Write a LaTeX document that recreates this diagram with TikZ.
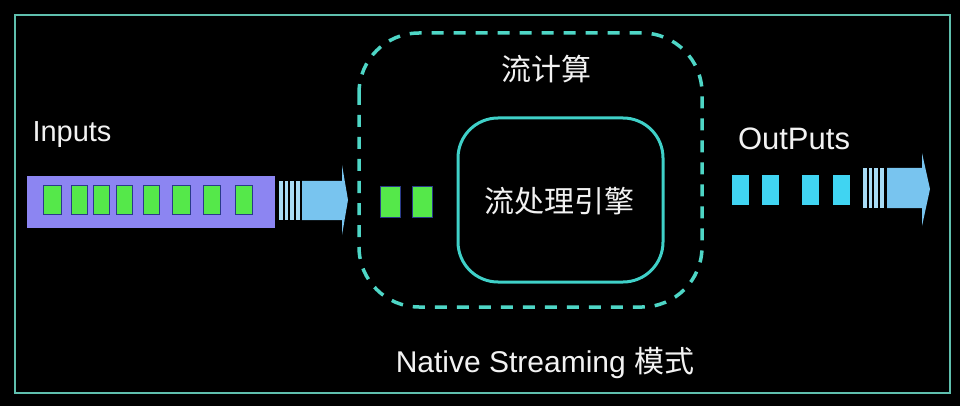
\documentclass[tikz,border=0pt]{standalone}
\usepackage{fontspec}
\setmainfont{Liberation Sans}
\newfontfamily\cjk{Noto Sans CJK SC}
\definecolor{framec}{HTML}{5FBFAE}
\definecolor{dashc}{HTML}{4ED6C6}
\definecolor{innerc}{HTML}{3FD0C8}
\definecolor{purplec}{HTML}{8C85F2}
\definecolor{greenc}{HTML}{55E84A}
\definecolor{greenb}{HTML}{2A3A8A}
\definecolor{cyanc}{HTML}{40D4F2}
\definecolor{arrowc}{HTML}{78C4EF}
\definecolor{stripec}{HTML}{A8DCF6}
\definecolor{txtc}{HTML}{F2F2F2}
\tikzset{
  lbl/.style={text=txtc, inner sep=0pt},
  gsq/.style={fill=greenc, draw=greenb, line width=0.8pt, inner sep=0pt, minimum width=17pt, minimum height=29pt},
  msq/.style={fill=greenc, draw=greenb, line width=0.8pt, inner sep=0pt, minimum width=20pt, minimum height=31pt},
  csq/.style={fill=cyanc, inner sep=0pt, minimum width=17pt, minimum height=30pt},
}
\begin{document}
\begin{tikzpicture}[x=1pt,y=-1pt]
\fill[black] (0,0) rectangle (960,406);
\useasboundingbox (0,0) rectangle (960,406);
% outer frame
\draw[framec, line width=2pt] (15,15) rectangle (950,393);
% dashed stream-computing box
\draw[dashc, line width=3.5pt, dash pattern=on 12pt off 10pt, rounded corners=60pt] (359,33) rectangle (702,307);
% inner engine box
\node[draw=innerc, line width=3pt, rounded corners=40pt, minimum width=205pt, minimum height=164pt, inner sep=0pt] (engine) at (560.5,200) {};
\node[lbl, font=\cjk\fontsize{30}{36}\selectfont] (enginelbl) at (559,201) {流处理引擎};
\node[lbl, font=\cjk\fontsize{30}{36}\selectfont] (streamlbl) at (546,69) {流计算};
% inputs
\node[lbl, anchor=base, font=\fontsize{29}{34}\selectfont] (inputs) at (72,142) {Inputs};
\node[fill=purplec, inner sep=0pt, minimum width=248pt, minimum height=52pt] (inbar) at (151,202) {};
\foreach \i/\x/\w in {1/52/18,2/79/16,3/101/16,4/124/16,5/151/16,6/181/18,7/211.5/17,8/243.5/17}{
  \node[gsq, minimum width=\w pt] (g\i) at (\x,199.5) {};
}
% left arrow
\foreach \a/\b in {279/282.5,284.5/288,290/293.5,295.5/300}{
  \fill[stripec] (\a,181) rectangle (\b,220);
}
\fill[arrowc] (302,181) -- (342,181) -- (342,165) -- (348,200) -- (342,235) -- (342,220) -- (302,220) -- cycle;
% middle green squares
\node[msq] (m1) at (390,201.5) {};
\node[msq] (m2) at (422,201.5) {};
% outputs
\node[lbl, anchor=base, font=\fontsize{31}{36}\selectfont] (outputs) at (794,150) {OutPuts};
\foreach \i/\x in {1/740.5,2/770.5,3/810,4/841}{
  \node[csq] (c\i) at (\x,190) {};
}
\foreach \a/\b in {863/866.5,868.5/872,874/877.5,879.5/884}{
  \fill[stripec] (\a,168) rectangle (\b,208);
}
\fill[arrowc] (887,168) -- (922,168) -- (922,153) -- (930,189) -- (922,226) -- (922,208) -- (887,208) -- cycle;
% bottom caption
\node[lbl, anchor=base, font=\fontsize{30}{35}\selectfont] (caption) at (545,372) {Native Streaming {\cjk 模式}};
\end{tikzpicture}
\end{document}
